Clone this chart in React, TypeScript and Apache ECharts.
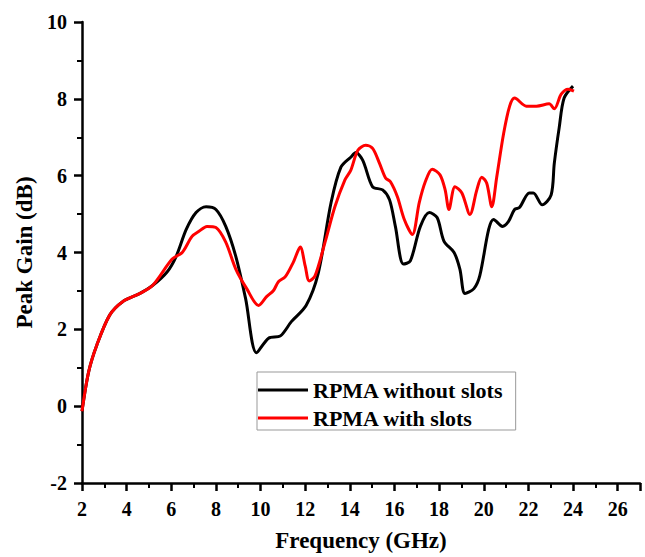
import React, { useEffect, useRef } from "react";
import * as echarts from "echarts";

const freqBlack = [2.0, 2.3, 2.67, 3.24, 3.82, 4.58, 5.16, 5.82, 6.22, 6.67, 7.11, 7.56, 8.0, 8.44, 8.89, 9.33, 9.82, 10.36, 10.89, 11.38, 12.04, 12.58, 13.16, 13.6, 14.04, 14.27, 14.58, 15.02, 15.47, 15.78, 16.04, 16.4, 16.71, 17.16, 17.56, 17.91, 18.22, 18.67, 18.93, 19.16, 19.56, 19.82, 20.22, 20.44, 20.84, 21.11, 21.38, 21.6, 22.04, 22.22, 22.62, 23.02, 23.16, 23.38, 23.6, 24.0];
const gainBlack = [-0.13, 0.9, 1.6, 2.37, 2.72, 2.93, 3.14, 3.5, 3.9, 4.6, 5.04, 5.19, 5.12, 4.68, 3.9, 2.8, 1.39, 1.77, 1.83, 2.2, 2.62, 3.45, 5.3, 6.22, 6.48, 6.6, 6.4, 5.71, 5.63, 5.37, 4.68, 3.7, 3.78, 4.68, 5.04, 4.91, 4.29, 4.0, 3.57, 2.93, 3.06, 3.39, 4.6, 4.86, 4.68, 4.81, 5.12, 5.17, 5.55, 5.55, 5.24, 5.5, 6.32, 7.25, 8.02, 8.33];

const freqRed = [2.0, 2.3, 2.67, 3.24, 3.82, 4.58, 5.16, 6.04, 6.49, 6.93, 7.24, 7.6, 8.0, 8.44, 8.89, 9.38, 9.91, 10.27, 10.58, 10.8, 11.11, 11.47, 11.78, 12.0, 12.18, 12.44, 12.89, 13.33, 13.78, 14.04, 14.36, 14.71, 15.02, 15.33, 15.6, 15.82, 16.13, 16.44, 16.8, 17.11, 17.38, 17.69, 18.04, 18.27, 18.44, 18.71, 19.02, 19.38, 19.69, 19.91, 20.13, 20.36, 20.58, 20.89, 21.16, 21.38, 21.91, 22.36, 22.93, 23.16, 23.47, 23.78, 24.04];
const gainRed = [-0.13, 0.9, 1.6, 2.37, 2.72, 2.93, 3.14, 3.83, 4.0, 4.42, 4.55, 4.68, 4.65, 4.27, 3.57, 3.06, 2.62, 2.85, 3.01, 3.24, 3.37, 3.75, 4.14, 3.65, 3.26, 3.39, 4.27, 5.19, 5.89, 6.14, 6.66, 6.79, 6.71, 6.32, 5.94, 5.84, 5.45, 4.86, 4.47, 5.3, 5.84, 6.17, 6.02, 5.63, 5.12, 5.71, 5.55, 4.99, 5.63, 5.96, 5.81, 5.19, 5.96, 7.1, 7.81, 8.02, 7.81, 7.81, 7.87, 7.74, 8.12, 8.25, 8.2];

const seriesNames = ["RPMA without slots", "RPMA with slots"];
const xTicks = { min: 2, max: 27, interval: 2 };
const yTicks = { min: -2, max: 10, interval: 2 };

const FONT = "'Liberation Serif', 'Times New Roman', serif";

export default function App() {
  const ref = useRef<HTMLDivElement>(null);
  useEffect(() => {
    if (!ref.current) return;
    const chart = echarts.init(ref.current, undefined, { renderer: "svg" });
    const blackData = freqBlack.map((f, i) => [f, gainBlack[i]]);
    const redData = freqRed.map((f, i) => [f, gainRed[i]]);
    const axisCommon = {
      axisLine: { show: true, onZero: false, lineStyle: { color: "#000", width: 2.5 } },
      axisTick: { show: true, inside: false, length: 8, lineStyle: { color: "#000", width: 2.5 } },
      minorTick: { show: true, splitNumber: 2, length: 5, lineStyle: { color: "#000", width: 2 } },
      splitLine: { show: false },
      minorSplitLine: { show: false },
      nameTextStyle: { fontFamily: FONT, fontWeight: "bold", fontSize: 23, color: "#000" },
    };
    chart.setOption({
      animation: false,
      backgroundColor: "#fff",
      grid: { left: 82, right: 5, top: 22, bottom: 69, containLabel: false },
      xAxis: {
        type: "value",
        min: xTicks.min,
        max: xTicks.max,
        interval: xTicks.interval,
        name: "Frequency (GHz)",
        nameLocation: "middle",
        nameGap: 46,
        ...axisCommon,
        axisLabel: {
          fontFamily: FONT,
          fontWeight: "bold",
          fontSize: 20,
          color: "#000",
          margin: 16,
          formatter: (v: number) => (v % 2 === 0 ? String(v) : ""),
        },
      },
      yAxis: {
        type: "value",
        min: yTicks.min,
        max: yTicks.max,
        interval: yTicks.interval,
        name: "Peak Gain (dB)",
        nameLocation: "middle",
        nameGap: 44,
        ...axisCommon,
        axisLabel: {
          fontFamily: FONT,
          fontWeight: "bold",
          fontSize: 20,
          color: "#000",
          margin: 15,
        },
      },
      legend: {
        orient: "vertical",
        left: 257,
        top: 372,
        icon: "rect",
        itemWidth: 50,
        itemHeight: 3,
        itemGap: 6,
        padding: [7, 12, 1, 1],
        borderColor: "#999",
        borderWidth: 1,
        borderRadius: 0,
        backgroundColor: "#fff",
        textStyle: { fontFamily: FONT, fontWeight: "bold", fontSize: 22, lineHeight: 22, color: "#000" },
        data: seriesNames,
      },
      series: [
        {
          name: seriesNames[0],
          type: "line",
          data: blackData,
          smooth: 0.3,
          symbol: "none",
          showSymbol: false,
          lineStyle: { color: "#000", width: 3 },
          itemStyle: { color: "#000" },
        },
        {
          name: seriesNames[1],
          type: "line",
          data: redData,
          smooth: 0.3,
          symbol: "none",
          showSymbol: false,
          lineStyle: { color: "#ff0000", width: 3 },
          itemStyle: { color: "#ff0000" },
        },
      ],
    });
    return () => chart.dispose();
  }, []);
  return <div ref={ref} style={{ width: 645, height: 557, position: "absolute", left: 0, top: 0 }} />;
}
